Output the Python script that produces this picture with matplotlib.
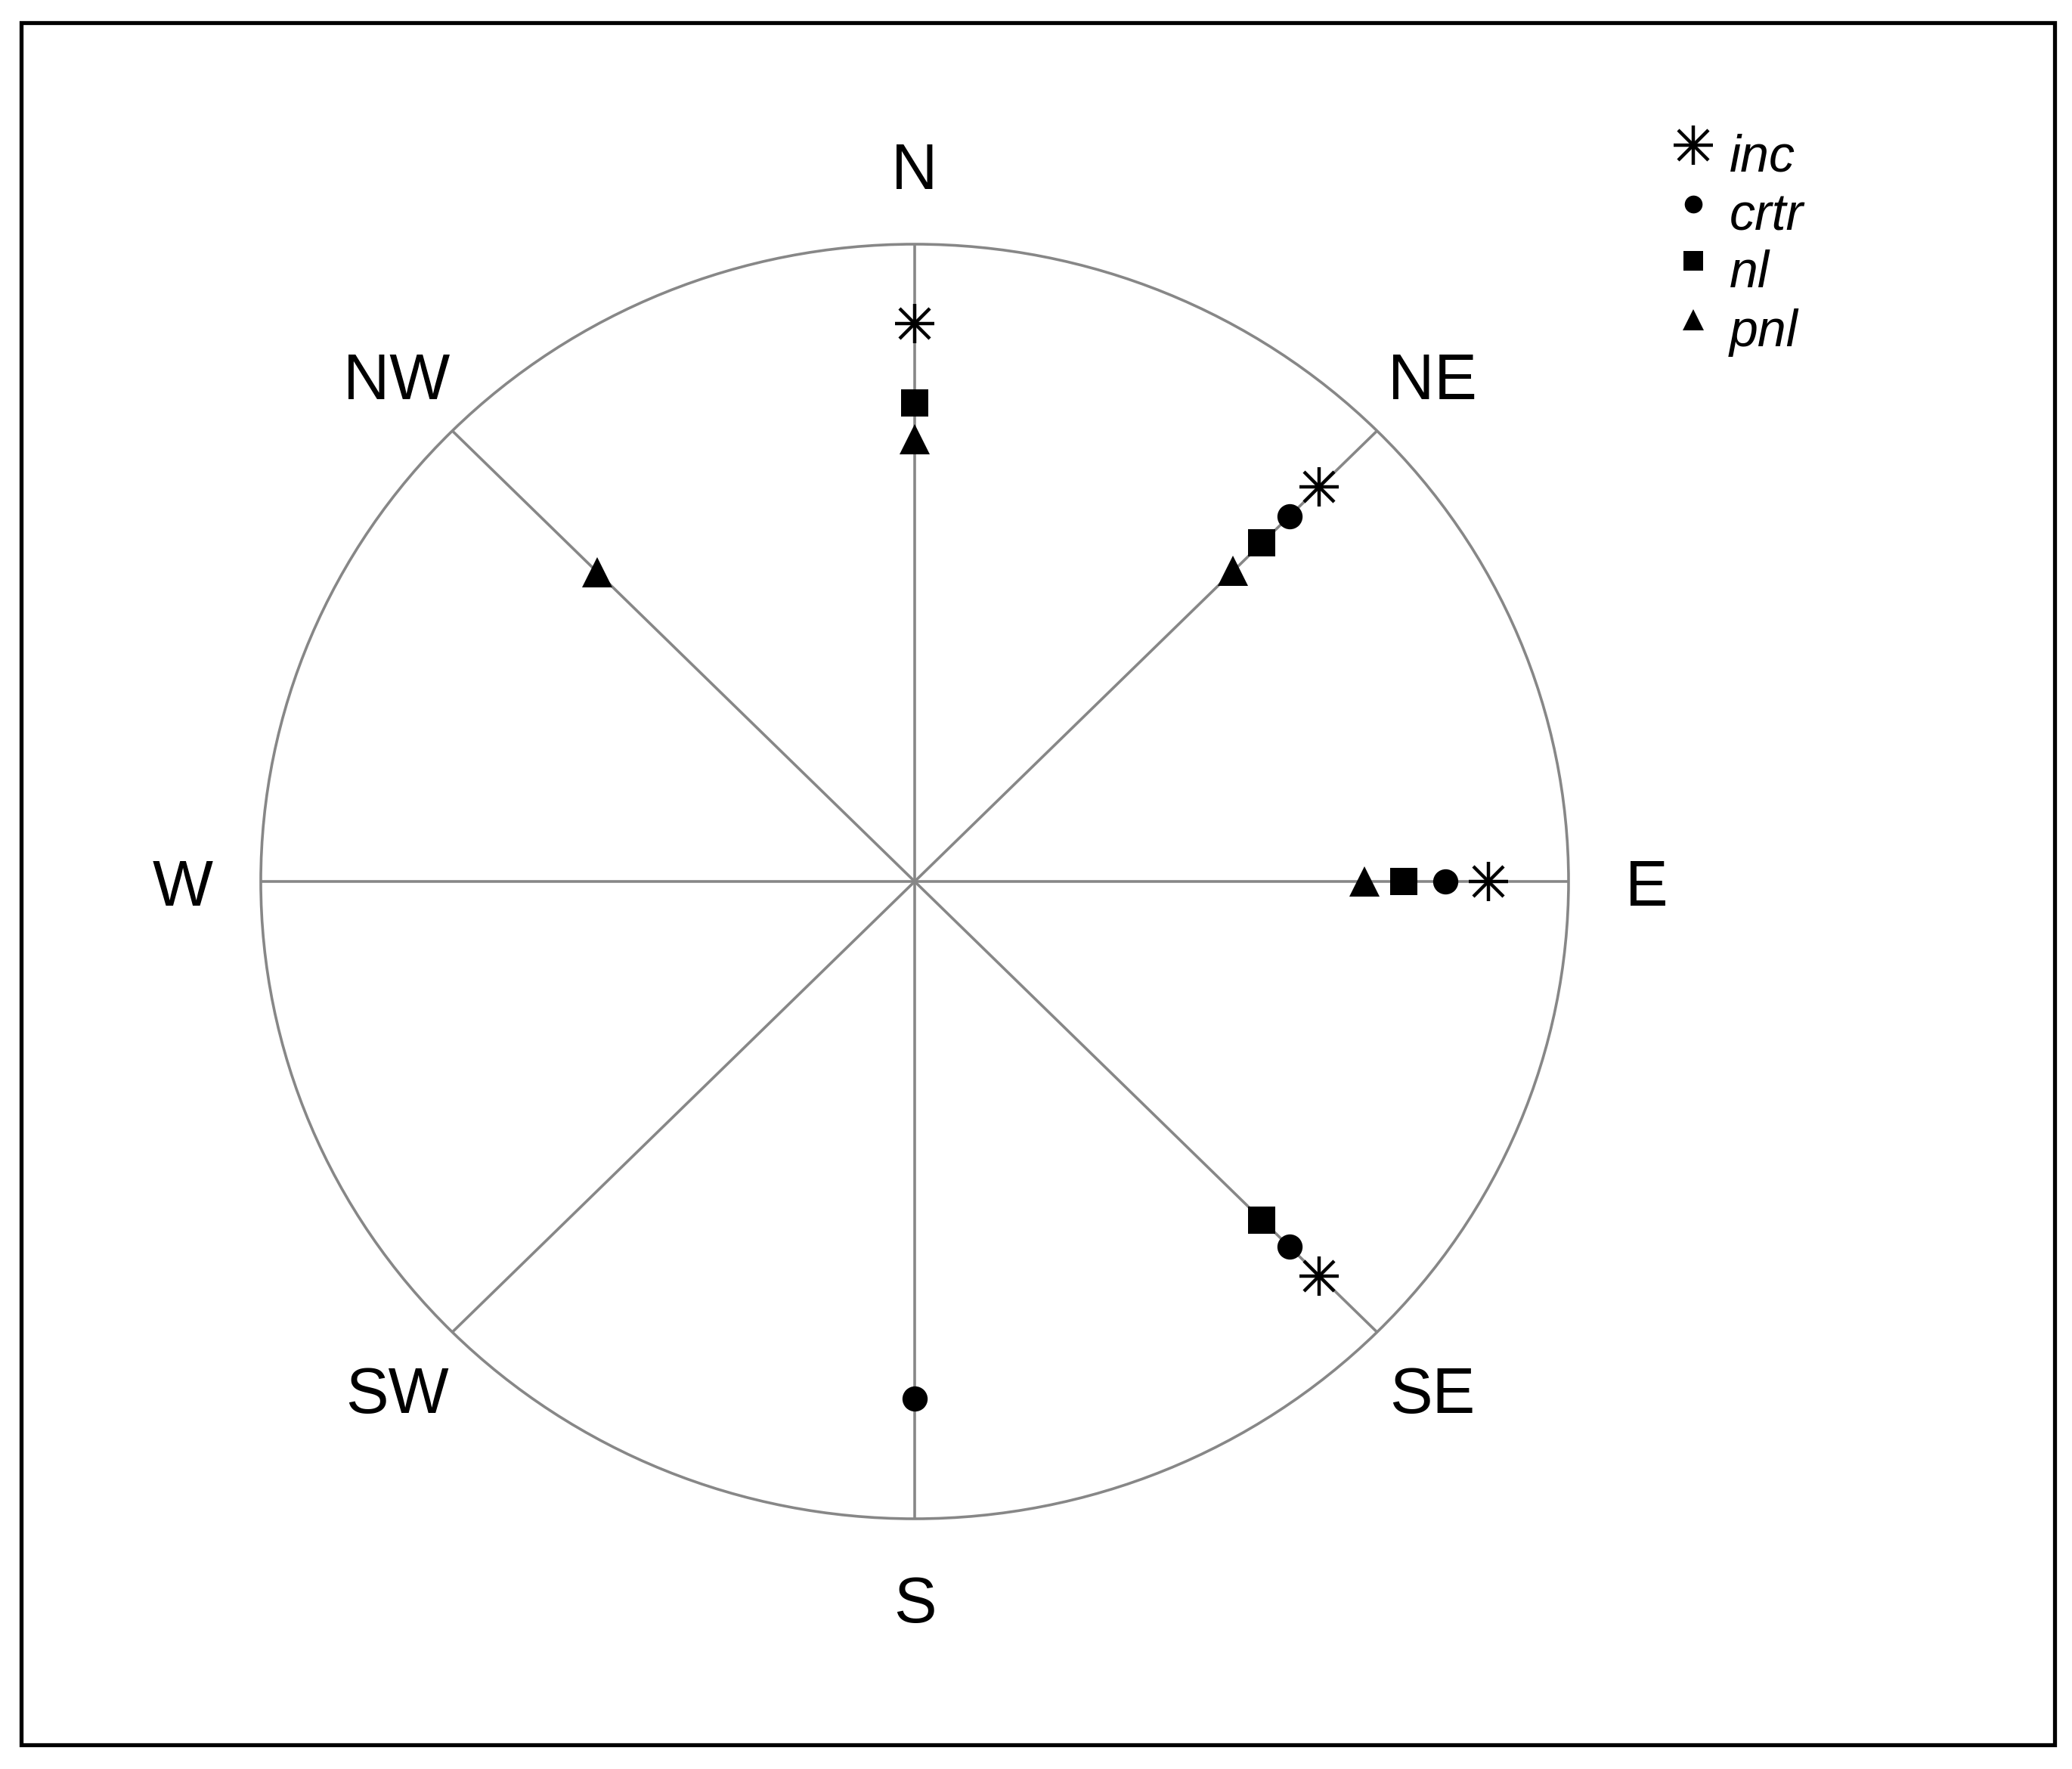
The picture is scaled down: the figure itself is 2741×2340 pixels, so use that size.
import numpy as np
import matplotlib
matplotlib.use('Agg')
import matplotlib.pyplot as plt
from matplotlib.patches import Circle, Rectangle

# compass directions and bearings (degrees)
directions = ['N', 'NE', 'E', 'SE', 'S', 'SW', 'W', 'NW']
bearings = [0, 45, 90, 135, 180, 225, 270, 315]

# series: direction + radial value
inc_dirs = ['N', 'NE', 'E', 'SE']
inc_vals = [0.875, 0.875, 0.878, 0.875]
crtr_dirs = ['NE', 'E', 'SE', 'S']
crtr_vals = [0.811, 0.812, 0.811, 0.811]
nl_dirs = ['N', 'NE', 'E', 'SE']
nl_vals = [0.751, 0.751, 0.748, 0.751]
pnl_dirs = ['N', 'NE', 'E', 'NW']
pnl_vals = [0.694, 0.689, 0.688, 0.686]

legend_labels = ['inc', 'crtr', 'nl', 'pnl']

W, H = 2741, 2340
CX, CY = 1210, 1166      # centre in pixels
RX, RY = 865, 843        # radius in pixels (x, y)

fig = plt.figure(figsize=(W / 100, H / 100), dpi=100)
ax = fig.add_axes([0, 0, 1, 1])
ax.set_xlim(-CX / RX, (W - CX) / RX)
ax.set_ylim(-(H - CY) / RY, CY / RY)
ax.axis('off')

grey = '#878787'
lw = 2.6

# outer circle and spokes
ax.add_patch(Circle((0, 0), 1, fill=False, edgecolor=grey, lw=lw))
bear = dict(zip(directions, bearings))
for d in directions:
    t = np.deg2rad(bear[d])
    ax.plot([0, np.sin(t)], [0, np.cos(t)], color=grey, lw=lw, solid_capstyle='butt')
    ax.text(1.12 * np.sin(t), 1.125 * np.cos(t) - 0.012, d, ha='center', va='center',
            fontsize=61, family='Liberation Sans')


def xy(dirs, vals):
    t = np.deg2rad([bear[d] for d in dirs])
    v = np.array(vals)
    return v * np.sin(t), v * np.cos(t)


def star(x, y, **kw):
    ax.plot(x, y, ls='none', marker='+', ms=37, mew=3.2, color='black', **kw)
    ax.plot(x, y, ls='none', marker='x', ms=29, mew=3.2, color='black', **kw)


x, y = xy(inc_dirs, inc_vals)
star(x, y)
x, y = xy(crtr_dirs, crtr_vals)
ax.plot(x, y, ls='none', marker='o', ms=24, color='black', mew=0)
x, y = xy(nl_dirs, nl_vals)
ax.plot(x, y, ls='none', marker='s', ms=26.5, color='black', mew=0)
x, y = xy(pnl_dirs, pnl_vals)
ax.plot(x, y, ls='none', marker='^', ms=29, color='black', mew=0)

# legend (top right)
lx, tx = (2240 - CX) / RX, (2288 - CX) / RX
rows = [(CY - py) / RY for py in [192, 270, 345, 423]]
star([lx], [rows[0]])
ax.plot([lx], [rows[1]], marker='o', ms=17, color='black', mew=0)
ax.plot([lx], [rows[2]], marker='s', ms=18.5, color='black', mew=0)
ax.plot([lx], [rows[3]], marker='^', ms=20, color='black', mew=0)
for lab, ry in zip(legend_labels, rows):
    ax.text(tx, ry - 0.02, lab, ha='left', va='center', fontsize=49,
            style='italic', family='Liberation Sans')

# frame around the whole figure
fig.patches.append(Rectangle((27.5 / W, 1 - 2307.5 / H), (2717.5 - 27.5) / W,
                             (2307.5 - 29.5) / H, transform=fig.transFigure,
                             fill=False, edgecolor='black', lw=3.8))

fig.savefig('out.png', dpi=100)
